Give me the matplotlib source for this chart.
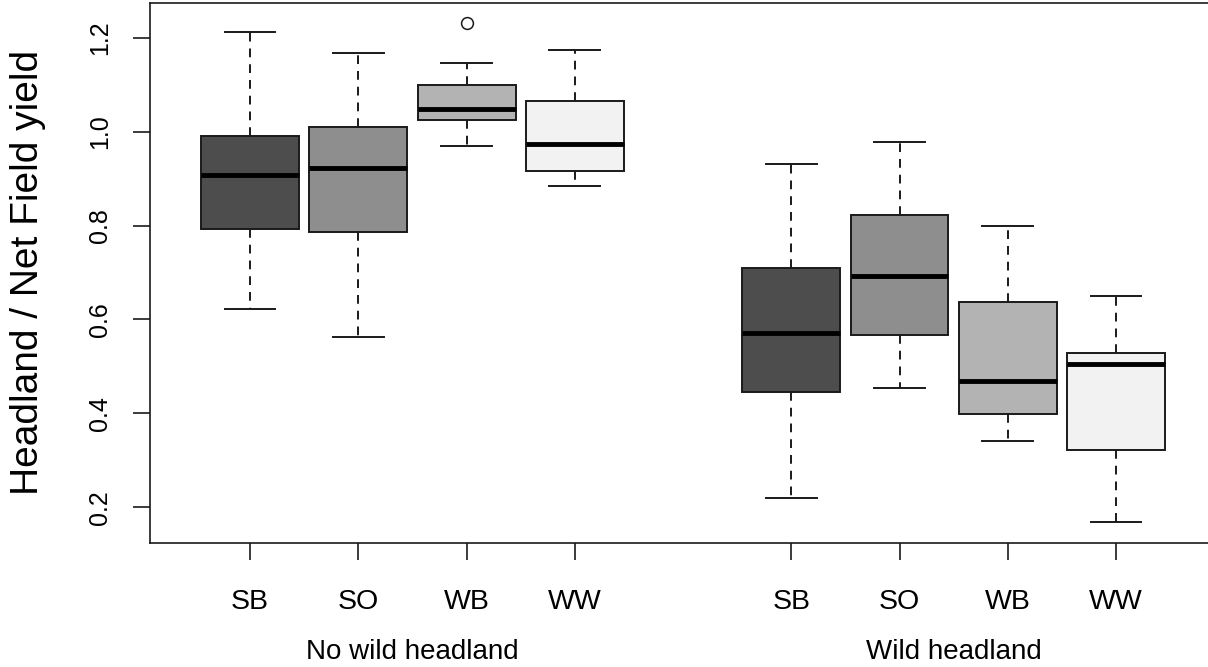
import matplotlib
matplotlib.use('Agg')
import matplotlib.pyplot as plt
import matplotlib.transforms as mtransforms

plt.rcParams['font.family'] = ['Liberation Sans', 'DejaVu Sans']

groups = ["No wild headland", "Wild headland"]
crops = ["SB", "SO", "WB", "WW"]
positions = [1, 2, 3, 4, 6, 7, 8, 9]
whislo = [0.622, 0.563, 0.970, 0.884, 0.219, 0.453, 0.341, 0.168]
q1 = [0.793, 0.786, 1.025, 0.916, 0.446, 0.567, 0.399, 0.321]
med = [0.908, 0.923, 1.049, 0.974, 0.571, 0.693, 0.470, 0.505]
q3 = [0.990, 1.010, 1.099, 1.065, 0.709, 0.822, 0.637, 0.529]
whishi = [1.213, 1.167, 1.147, 1.173, 0.931, 0.978, 0.798, 0.650]
fliers = [[], [], [1.232], [], [], [], [], []]
fill_colors = ["#4D4D4D", "#8E8E8E", "#B3B3B3", "#F2F2F2"]
yticks = [0.2, 0.4, 0.6, 0.8, 1.0, 1.2]

W, H = 1208, 667
fig = plt.figure(figsize=(W / 100, H / 100), dpi=100)
ax = fig.add_axes([150 / W, 124.3 / H, 1066 / W, 540.2 / H])

stats = []
for i in range(len(positions)):
    stats.append(dict(whislo=whislo[i], q1=q1[i], med=med[i], q3=q3[i],
                      whishi=whishi[i], fliers=fliers[i]))

lw = 1.4
res = ax.bxp(stats, positions=positions, widths=0.905, capwidths=0.47,
             patch_artist=True, manage_ticks=False,
             boxprops=dict(linewidth=lw, edgecolor='#1a1a1a'),
             medianprops=dict(linewidth=3.5, color='black', solid_capstyle='butt'),
             whiskerprops=dict(linewidth=lw, color='#1a1a1a', linestyle=(0, (4.5, 3.6))),
             capprops=dict(linewidth=lw, color='#1a1a1a'),
             flierprops=dict(marker='o', markersize=8.5, markerfacecolor='none',
                             markeredgecolor='#1a1a1a', markeredgewidth=1.1))
for i, patch in enumerate(res['boxes']):
    patch.set_facecolor(fill_colors[i % 4])

ax.set_xlim(0.0757, 9.924)
ax.set_ylim(0.1246, 1.275)

ax.set_xticks(positions)
ax.set_xticklabels(crops * 2, fontsize=20.5)
ax.set_yticks(yticks)
ax.set_yticklabels([f"{v:.1f}" for v in yticks], fontsize=18)
for lab in ax.get_yticklabels():
    lab.set_rotation(90)
    lab.set_va('center')
    lab.set_ha('right')
ax.tick_params(axis='x', length=12, width=1.2, pad=21, color='#1a1a1a')
ax.tick_params(axis='y', length=12, width=1.2, pad=15, color='#1a1a1a')
for s in ax.spines.values():
    s.set_linewidth(1.2)
    s.set_color('#1a1a1a')

trans = mtransforms.blended_transform_factory(ax.transData, fig.transFigure)
ax.text(2.5, 8 / H, groups[0], transform=trans, ha='center', va='baseline', fontsize=20)
ax.text(7.5, 8 / H, groups[1], transform=trans, ha='center', va='baseline', fontsize=20)

fig.text(28.5 / W, (H - 272.5) / H, "Headland / Net Field yield", rotation=90,
         ha='center', va='center', fontsize=28)

fig.savefig('out.png', dpi=100)
